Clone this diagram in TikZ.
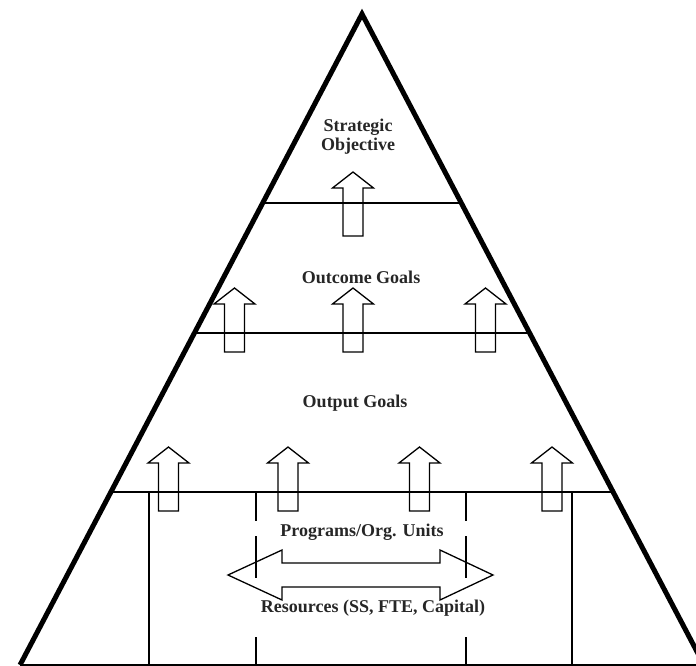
\documentclass[tikz,border=0pt]{standalone}
\usepackage{fontspec}
\setmainfont{Liberation Serif}
\usetikzlibrary{calc}

\begin{document}
\begin{tikzpicture}[
        x=1pt, y=-1pt,
        side/.style={line width=5pt, line join=miter},
        divider/.style={line width=1.3pt},
        blockarrow/.style={draw, line width=1.3pt},
        tier/.style={font=\fontsize{18}{19}\selectfont\bfseries, text=black!85, align=center, inner sep=0pt},
        upblock/.pic={\draw[blockarrow] (0,0) -- (20.5,16) -- (10,16) -- (10,64) -- (-10,64) -- (-10,16) -- (-20.5,16) -- cycle;}
    ]
        \useasboundingbox (0,0) rectangle (696,666);
        \clip (0,0) rectangle (696,666);

        % Pyramid corners
        \coordinate (apex) at (362,14);
        \coordinate (bl) at (20,665);
        \coordinate (br) at (704,665);

        % Tier dividers, ending on the sides
        \coordinate (l1) at ($(apex)!0.2903!(bl)$);
        \coordinate (r1) at ($(apex)!0.2903!(br)$);
        \coordinate (l2) at ($(apex)!0.4900!(bl)$);
        \coordinate (r2) at ($(apex)!0.4900!(br)$);
        \coordinate (l3) at ($(apex)!0.7343!(bl)$);
        \coordinate (r3) at ($(apex)!0.7343!(br)$);
        \draw[divider] (l1) -- (r1);
        \draw[divider] (l2) -- (r2);
        \draw[divider] (l3) -- (r3);
        \draw[divider] (bl) -- (br);

        % Program columns
        \draw[divider] (149,492) -- (149,665);
        \draw[divider] (572,492) -- (572,665);
        \draw[divider, dash pattern=on 29pt off 15pt on 42pt off 59pt on 30pt] (256,492) -- (256,665);
        \draw[divider, dash pattern=on 29pt off 15pt on 42pt off 59pt on 30pt] (466,492) -- (466,665);

        % Upward block arrows (tip positions)
        \pic at (353,172) {upblock};
        \foreach \x in {234.5, 353, 485.5}
            \pic at (\x,288) {upblock};
        \foreach \x in {168.5, 288, 419.5, 552}
            \pic at (\x,447) {upblock};

        % Two-headed block arrow
        \draw[blockarrow] (228,575) -- (282,550) -- (282,563) -- (440,563) -- (440,550)
            -- (493,575) -- (440,600) -- (440,587) -- (282,587) -- (282,600) -- cycle;

        % Sides of the pyramid
        \draw[side] (bl) -- (apex) -- (br);

        % Texts
        \node[tier] (strategic) at (358,137) {Strategic\\Objective};
        \node[tier] (outcome) at (361,277) {Outcome Goals};
        \node[tier] (output) at (355,403) {Output Goals};
        \node[tier] (programs) at (362,532) {Programs/Org. Units};
        \node[tier] (resources) at (373,608) {Resources (SS, FTE, Capital)};
    \end{tikzpicture}
\end{document}
